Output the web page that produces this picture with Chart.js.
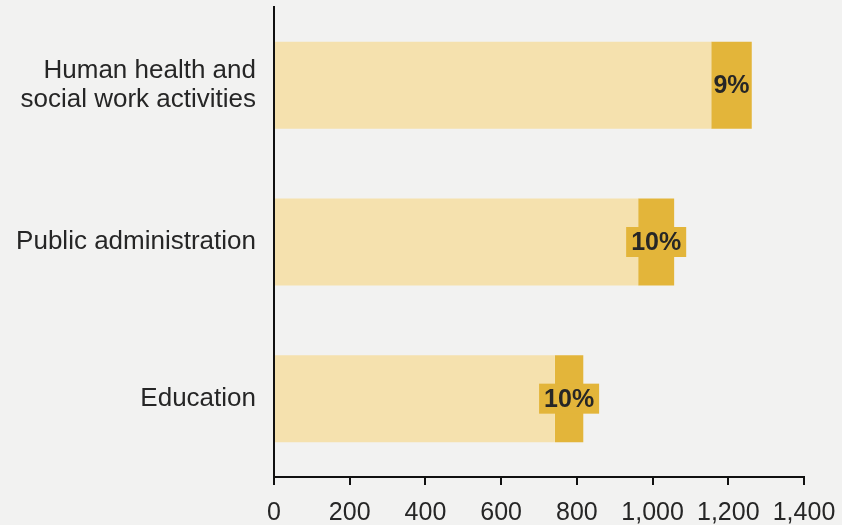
<html>

<head>
    <meta charset="utf-8">
    <title>Employment by sector</title>
    <script src="https://cdn.jsdelivr.net/npm/chart.js"></script>
    <style>
        body {
            margin: 0;
            background-color: #f2f2f1;
        }

        #wrap {
            width: 842px;
            height: 525px;
        }
    </style>
</head>

<body>
    <div id="wrap">
        <canvas id="myChart" width="842" height="525"></canvas>
    </div>

    <script>
        const categories = [["Human health and", "social work activities"], "Public administration", "Education"];
        const baseValues = [1155, 962, 742];
        const addedValues = [107, 95, 75];
        const xTicks = [0, 200, 400, 600, 800, 1000, 1200, 1400];

        const lightGold = "#f5e1ae";
        const darkGold = "#e3b53a";
        const textColor = "#262626";
        const fontFamily = "'Liberation Sans', Arial, Helvetica, sans-serif";

        // share of the added segment relative to the base, shown on the dark part
        const shareLabels = baseValues.map((b, i) => Math.round(addedValues[i] / b * 100) + "%");

        const boxLabels = {
            id: "boxLabels",
            afterDatasetsDraw(chart) {
                const ctx = chart.ctx;
                const meta = chart.getDatasetMeta(1);
                ctx.save();
                ctx.font = "bold 25px " + fontFamily;
                ctx.textAlign = "center";
                ctx.textBaseline = "middle";
                meta.data.forEach((bar, i) => {
                    const cx = (bar.x + bar.base) / 2;
                    const segW = Math.abs(bar.x - bar.base);
                    const txt = shareLabels[i];
                    const tw = ctx.measureText(txt).width;
                    // only give the label a backing box when it spills past the segment
                    if (tw > segW) {
                        const w = tw + 10;
                        const h = 30;
                        ctx.fillStyle = darkGold;
                        ctx.fillRect(cx - w / 2, bar.y - h / 2, w, h);
                    }
                    ctx.fillStyle = textColor;
                    ctx.fillText(txt, cx, bar.y + 1);
                });
                ctx.restore();
            }
        };

        const data = {
            labels: categories,
            datasets: [{
                label: "Base",
                data: baseValues,
                backgroundColor: lightGold,
                barPercentage: 0.555,
                categoryPercentage: 1,
            }, {
                label: "Added",
                data: addedValues,
                backgroundColor: darkGold,
                barPercentage: 0.555,
                categoryPercentage: 1,
            },],
        };

        const config = {
            type: "bar",
            data: data,
            plugins: [boxLabels],
            options: {
                indexAxis: "y",
                responsive: false,
                animation: false,
                layout: {
                    padding: { left: 0, right: 38, top: 7, bottom: 0 },
                },
                plugins: {
                    legend: { display: false },
                    tooltip: { enabled: false },
                },
                scales: {
                    x: {
                        stacked: true,
                        min: 0,
                        max: 1400,
                        afterBuildTicks: (scale) => {
                            scale.ticks = xTicks.map(v => ({ value: v }));
                        },
                        afterFit: (scale) => {
                            scale.height = 48;
                            scale.paddingLeft = 0;
                            scale.paddingRight = 0;
                        },
                        border: { display: true, color: "#111", width: 2 },
                        grid: {
                            drawOnChartArea: false,
                            drawTicks: true,
                            tickLength: 8,
                            color: "#111",
                            lineWidth: 2,
                        },
                        ticks: {
                            padding: 13,
                            color: textColor,
                            font: { family: fontFamily, size: 25 },
                            maxRotation: 0,
                            callback: (v) => v.toLocaleString("en-US"),
                        },
                    },
                    y: {
                        stacked: true,
                        afterFit: (scale) => {
                            scale.width = 274;
                            scale.paddingTop = 0;
                            scale.paddingBottom = 0;
                        },
                        border: { display: true, color: "#111", width: 2 },
                        grid: { display: false },
                        ticks: {
                            padding: 10,
                            color: textColor,
                            font: { family: fontFamily, size: 26, lineHeight: 1.15 },
                        },
                    },
                },
            },
        };

        const ctx = document.getElementById("myChart").getContext("2d");
        myChart = new Chart(ctx, config);
    </script>
</body>

</html>
